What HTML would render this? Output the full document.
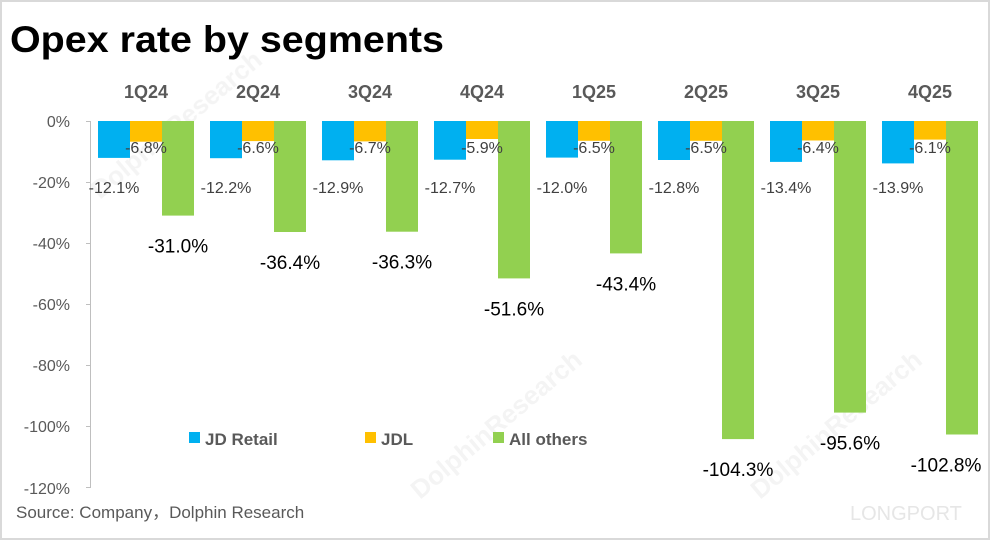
<!DOCTYPE html>
<html><head><meta charset="utf-8"><style>
html,body{margin:0;padding:0;background:#fff}
svg{display:block}
</style></head><body>
<svg width="990" height="540" viewBox="0 0 990 540" xmlns="http://www.w3.org/2000/svg" font-family="Liberation Sans, sans-serif">
<rect x="1" y="1" width="988" height="538" fill="#fff" stroke="#d9d9d9" stroke-width="2"/>
<g font-weight="bold" opacity="0.9" fill="#f3f3f3" font-size="26">
<text x="100" y="200" transform="rotate(-40 100 200)">DolphinResearch</text>
<text x="420" y="500" transform="rotate(-40 420 500)">DolphinResearch</text>
<text x="760" y="500" transform="rotate(-40 760 500)">DolphinResearch</text>
</g>
<text x="10" y="52" font-size="37" font-weight="bold" fill="#000" textLength="434" lengthAdjust="spacingAndGlyphs">Opex rate by segments</text>
<g font-size="18" font-weight="bold" fill="#595959" text-anchor="middle">
<text x="146" y="98">1Q24</text><text x="258" y="98">2Q24</text><text x="370" y="98">3Q24</text><text x="482" y="98">4Q24</text>
<text x="594" y="98">1Q25</text><text x="706" y="98">2Q25</text><text x="818" y="98">3Q25</text><text x="930" y="98">4Q25</text>
</g>
<g font-size="16" fill="#595959" text-anchor="end">
<text x="70" y="127">0%</text><text x="70" y="188">-20%</text><text x="70" y="249">-40%</text><text x="70" y="310">-60%</text>
<text x="70" y="371">-80%</text><text x="70" y="432">-100%</text><text x="70" y="494">-120%</text>
</g>
<g stroke="#bfbfbf" stroke-width="1">
<line x1="90.5" y1="121" x2="90.5" y2="488"/>
<line x1="86" y1="121.5" x2="90" y2="121.5"/><line x1="86" y1="182.5" x2="90" y2="182.5"/><line x1="86" y1="243.5" x2="90" y2="243.5"/>
<line x1="86" y1="304.5" x2="90" y2="304.5"/><line x1="86" y1="365.5" x2="90" y2="365.5"/><line x1="86" y1="426.5" x2="90" y2="426.5"/><line x1="86" y1="487.5" x2="90" y2="487.5"/>
</g>
<g fill="#00b0f0">
<rect x="98" y="121" width="32" height="36.9"/><rect x="210" y="121" width="32" height="37.2"/>
<rect x="322" y="121" width="32" height="39.3"/><rect x="434" y="121" width="32" height="38.7"/>
<rect x="546" y="121" width="32" height="36.6"/><rect x="658" y="121" width="32" height="39.0"/>
<rect x="770" y="121" width="32" height="40.9"/><rect x="882" y="121" width="32" height="42.4"/>
</g>
<g fill="#ffc000">
<rect x="130" y="121" width="32" height="20.7"/><rect x="242" y="121" width="32" height="20.1"/>
<rect x="354" y="121" width="32" height="20.4"/><rect x="466" y="121" width="32" height="18.0"/>
<rect x="578" y="121" width="32" height="19.8"/><rect x="690" y="121" width="32" height="19.8"/>
<rect x="802" y="121" width="32" height="19.5"/><rect x="914" y="121" width="32" height="18.6"/>
</g>
<g fill="#92d050">
<rect x="162" y="121" width="32" height="94.6"/><rect x="274" y="121" width="32" height="111.0"/>
<rect x="386" y="121" width="32" height="110.7"/><rect x="498" y="121" width="32" height="157.4"/>
<rect x="610" y="121" width="32" height="132.4"/><rect x="722" y="121" width="32" height="318.1"/>
<rect x="834" y="121" width="32" height="291.6"/><rect x="946" y="121" width="32" height="313.5"/>
</g>
<g font-size="16" fill="#404040" text-anchor="middle">
<text x="114" y="193">-12.1%</text><text x="226" y="193">-12.2%</text><text x="338" y="193">-12.9%</text><text x="450" y="193">-12.7%</text>
<text x="562" y="193">-12.0%</text><text x="674" y="193">-12.8%</text><text x="786" y="193">-13.4%</text><text x="898" y="193">-13.9%</text>
<text x="146" y="153">-6.8%</text><text x="258" y="153">-6.6%</text><text x="370" y="153">-6.7%</text><text x="482" y="153">-5.9%</text>
<text x="594" y="153">-6.5%</text><text x="706" y="153">-6.5%</text><text x="818" y="153">-6.4%</text><text x="930" y="153">-6.1%</text>
</g>
<g font-size="19" fill="#000" text-anchor="middle">
<text x="178" y="252.6">-31.0%</text><text x="290" y="269">-36.4%</text><text x="402" y="268.7">-36.3%</text><text x="514" y="315.4">-51.6%</text>
<text x="626" y="290.4">-43.4%</text><text x="738" y="476.1">-104.3%</text><text x="850" y="449.6">-95.6%</text><text x="946" y="471.5">-102.8%</text>
</g>
<g font-size="17" font-weight="bold" fill="#595959">
<rect x="189" y="432" width="11" height="11" fill="#00b0f0"/><text x="205" y="445">JD Retail</text>
<rect x="365" y="432" width="11" height="11" fill="#ffc000"/><text x="381" y="445">JDL</text>
<rect x="493" y="432" width="11" height="11" fill="#92d050"/><text x="509" y="445">All others</text>
</g>
<text x="16" y="518" font-size="17" fill="#595959">Source:  Company，Dolphin Research</text>
<text x="850" y="520" font-size="20" fill="#e6e6e6">LONGPORT</text>
</svg>
</body></html>
